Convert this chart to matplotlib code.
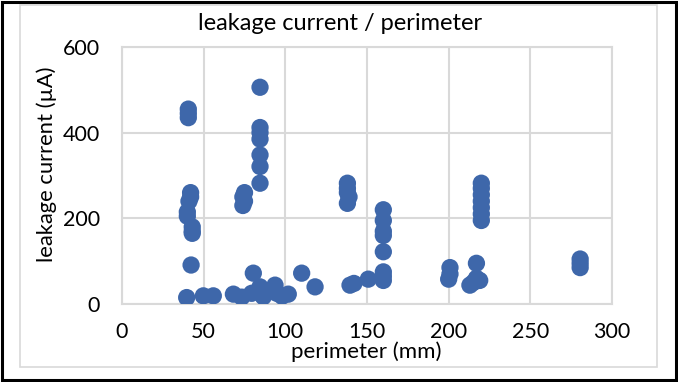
import matplotlib
matplotlib.use('Agg')
import matplotlib.pyplot as plt
from matplotlib.patches import Rectangle

plt.rcParams['font.family'] = ['Lato', 'DejaVu Sans']

# perimeter (mm) and leakage current (uA)
perimeter = [40.6, 40.6, 40.6,
             42, 42, 41, 40, 40, 43, 43, 43,
             42.3, 39.6,
             49.8, 55.9, 68.2, 73.3, 79.4, 86.5, 84.5, 93.7, 94.7, 101.8, 89, 98,
             80.4, 75, 74, 75, 74,
             84.5, 84.5, 84.5, 84.5, 84.5, 84.5, 84.5,
             110, 118.2, 139.6, 142, 150.8,
             138, 138, 138, 139, 138,
             160, 160, 160, 160, 160, 160, 160, 160,
             200.8, 200.8, 200,
             213, 215, 217, 217, 219,
             220, 220, 220, 220, 220, 220, 220,
             280.5, 280.5, 280.5]
current = [455, 445, 435,
           260, 250, 240, 215, 205, 180, 170, 165,
           91, 15,
           19, 19, 23, 16, 25, 17, 40, 44, 25, 23, 30, 18,
           72, 260, 250, 240, 230,
           506, 412, 400, 385, 348, 321, 282,
           72, 40, 44, 48, 58,
           282, 270, 260, 250, 235,
           220, 195, 170, 160, 122, 75, 65, 55,
           85, 70, 58,
           44, 50, 95, 60, 55,
           282, 270, 255, 240, 225, 210, 195,
           105, 95, 85]

x_ticks = [0, 50, 100, 150, 200, 250, 300]
y_ticks = [0, 200, 400, 600]

fig = plt.figure(figsize=(6.78, 3.82), dpi=100)
ax = fig.add_axes([122 / 678, 1 - 304 / 382, 490 / 678, 257 / 382])

ax.scatter(perimeter, current, s=155, color='#3e67aa', edgecolors='none', zorder=3)

ax.set_xlim(0, 300)
ax.set_ylim(0, 600)
ax.set_xticks(x_ticks)
ax.set_yticks(y_ticks)
ax.grid(True, color='#d9d9d9', linewidth=1.5, zorder=0)
for s in ax.spines.values():
    s.set_color('#d9d9d9')
    s.set_linewidth(1.5)
ax.tick_params(length=0, labelsize=15.5, colors='black')
ax.tick_params(axis='x', pad=13)
ax.tick_params(axis='y', pad=16)

fig.text(340 / 678, 1 - 24 / 382, 'leakage current / perimeter', ha='center', va='center', fontsize=17)
fig.text(366 / 678, 1 - 352 / 382, 'perimeter (mm)', ha='center', va='center', fontsize=16)
fig.text(47 / 678, 1 - 164 / 382, 'leakage current (µA)', ha='center', va='center',
         rotation=90, fontsize=15.8)

fig.patches.append(Rectangle((20 / 678, 1 - 367 / 382), 637 / 678, 362 / 382,
                             transform=fig.transFigure, fill=False, ec='#d9d9d9', lw=1.2))
fig.patches.append(Rectangle((2 / 678, 2 / 382), 674 / 678, 378 / 382,
                             transform=fig.transFigure, fill=False, ec='black', lw=2.2))

fig.savefig('out.png', dpi=100)
